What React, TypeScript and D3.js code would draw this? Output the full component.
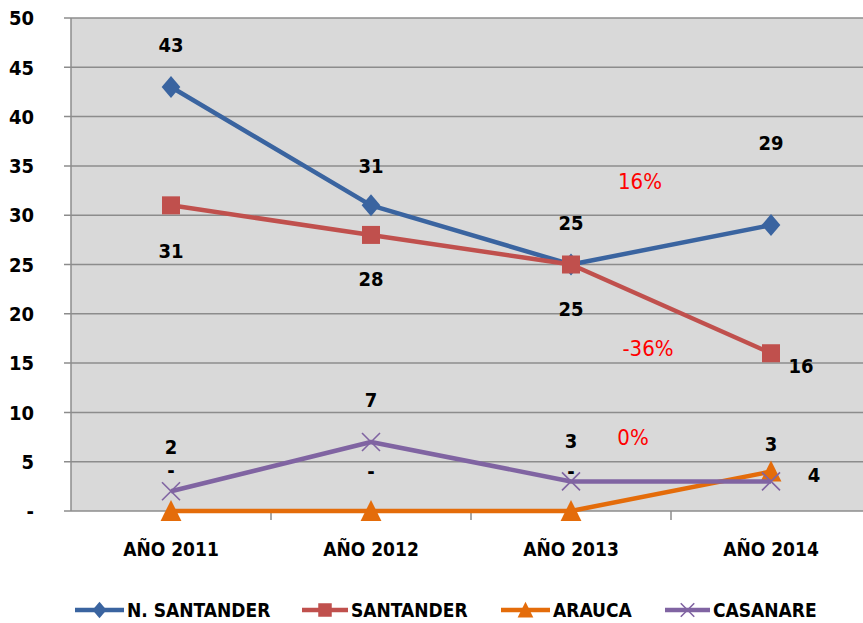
import React from "react";
import * as d3 from "d3";

const categories = ["AÑO 2011", "AÑO 2012", "AÑO 2013", "AÑO 2014"];
const seriesNames = ["N. SANTANDER", "SANTANDER", "ARAUCA", "CASANARE"];
const nSantander = [43, 31, 25, 29];
const santander = [31, 28, 25, 16];
const arauca = [0, 0, 0, 4];
const casanare = [2, 7, 3, 3];
const yTicks = [0, 5, 10, 15, 20, 25, 30, 35, 40, 45, 50];
const changeLabels = ["16%", "-36%", "0%"];
const changeValues = [33.5, 16.5, 7.5];

const W = 863, H = 623;
const M = { left: 71, top: 18, right: 871, bottom: 511 };
const FONT = "'Liberation Sans Narrow', 'DejaVu Sans Condensed', 'Arial Narrow', sans-serif";
const colors = ["#3a64a0", "#c0504d", "#e46c0a", "#8064a2"];
// label offsets (dx, dy) in px per series per point
const labelOffsets = [
  [[0, -42], [0, -40], [0, -42], [0, -82]],
  [[0, 45], [0, 44], [0, 44], [30, 13]],
  [[0, -41], [0, -40], [0, -40], [43, 3]],
  [[0, -44], [0, -42], [0, -41], [0, -38]],
];

function Marker({ kind, x, y, color, s = 1 }: any) {
  if (kind === 0) {
    const r = 11 * s;
    return <path d={`M${x},${y - r}L${x + r * 0.85},${y}L${x},${y + r}L${x - r * 0.85},${y}Z`} fill={color} />;
  }
  if (kind === 1) {
    const r = 9 * s;
    return <rect x={x - r} y={y - r} width={2 * r} height={2 * r} fill={color} />;
  }
  if (kind === 2) {
    const r = 11 * s;
    return <path d={`M${x},${y - r}L${x + r * 0.95},${y + r * 0.9}L${x - r * 0.95},${y + r * 0.9}Z`} fill={color} />;
  }
  const r = 9 * s;
  return (
    <path d={`M${x - r},${y - r}L${x + r},${y + r}M${x - r},${y + r}L${x + r},${y - r}`} stroke={color} strokeWidth={1.6} fill="none" />
  );
}

export default function App() {
  const data = [nSantander, santander, arauca, casanare];
  const x = d3.scaleBand().domain(categories).range([M.left, M.right]);
  const cx = (c: string) => (x(c) as number) + x.bandwidth() / 2;
  const y = d3.scaleLinear().domain([0, 50]).range([M.bottom, M.top]);
  const line = d3.line<number>().x((_, i) => cx(categories[i])).y((d) => y(d));
  const legendX = [75, 302, 501, 665];
  const legendLineW = [49, 46, 49, 45];
  return (
    <svg width={W} height={H} style={{ position: "absolute", left: 0, top: 0 }} fontFamily={FONT}>
      <rect x={0} y={0} width={W} height={H} fill="#ffffff" />
      <rect x={M.left} y={M.top} width={M.right - M.left} height={M.bottom - M.top} fill="#d9d9d9" />
      {yTicks.map((t) => (
        <g key={t}>
          <line x1={M.left - 7} x2={M.right} y1={y(t)} y2={y(t)} stroke="#8c8c8c" strokeWidth={1.5} />
          <text x={34} y={y(t)} dy="0.36em" textAnchor="end" fontSize={20} fontWeight="bold" fill="#000">
            {t === 0 ? "-" : t}
          </text>
        </g>
      ))}
      <line x1={M.left} x2={M.left} y1={M.top} y2={M.bottom} stroke="#8c8c8c" strokeWidth={1.5} />
      {categories.map((c, i) => (
        <g key={c}>
          {i > 0 && <line x1={x(c)} x2={x(c)} y1={M.bottom} y2={M.bottom + 9} stroke="#8c8c8c" strokeWidth={1.5} />}
          <text x={cx(c)} y={549} dy="0.36em" textAnchor="middle" fontSize={19} fontWeight="bold" fill="#000">
            {c}
          </text>
        </g>
      ))}
      {data.map((s, si) => (
        <g key={si}>
          <path d={line(s) as string} fill="none" stroke={colors[si]} strokeWidth={4.5} strokeLinejoin="round" />
          {s.map((v, i) => (
            <Marker key={i} kind={si} x={cx(categories[i])} y={y(v)} color={colors[si]} />
          ))}
        </g>
      ))}
      {data.map((s, si) =>
        s.map((v, i) => (
          <text
            key={`${si}-${i}`}
            x={cx(categories[i]) + labelOffsets[si][i][0]}
            y={y(v) + labelOffsets[si][i][1]}
            dy="0.36em"
            textAnchor="middle"
            fontSize={20}
            fontWeight="bold"
            fill="#000"
          >
            {v === 0 ? "-" : v}
          </text>
        ))
      )}
      {changeLabels.map((t, i) => (
        <text key={t} x={[640, 648, 633][i]} y={y(changeValues[i])} dy="0.36em" textAnchor="middle" fontSize={22} fill="#ff0000">
          {t}
        </text>
      ))}
      {seriesNames.map((n, i) => (
        <g key={n}>
          <line x1={legendX[i]} x2={legendX[i] + legendLineW[i]} y1={610} y2={610} stroke={colors[i]} strokeWidth={4.5} />
          <Marker kind={i} x={legendX[i] + legendLineW[i] / 2} y={610} color={colors[i]} s={0.75} />
          <text x={legendX[i] + legendLineW[i] + 3} y={610} dy="0.36em" fontSize={19} fontWeight="bold" fill="#000">
            {n}
          </text>
        </g>
      ))}
    </svg>
  );
}
